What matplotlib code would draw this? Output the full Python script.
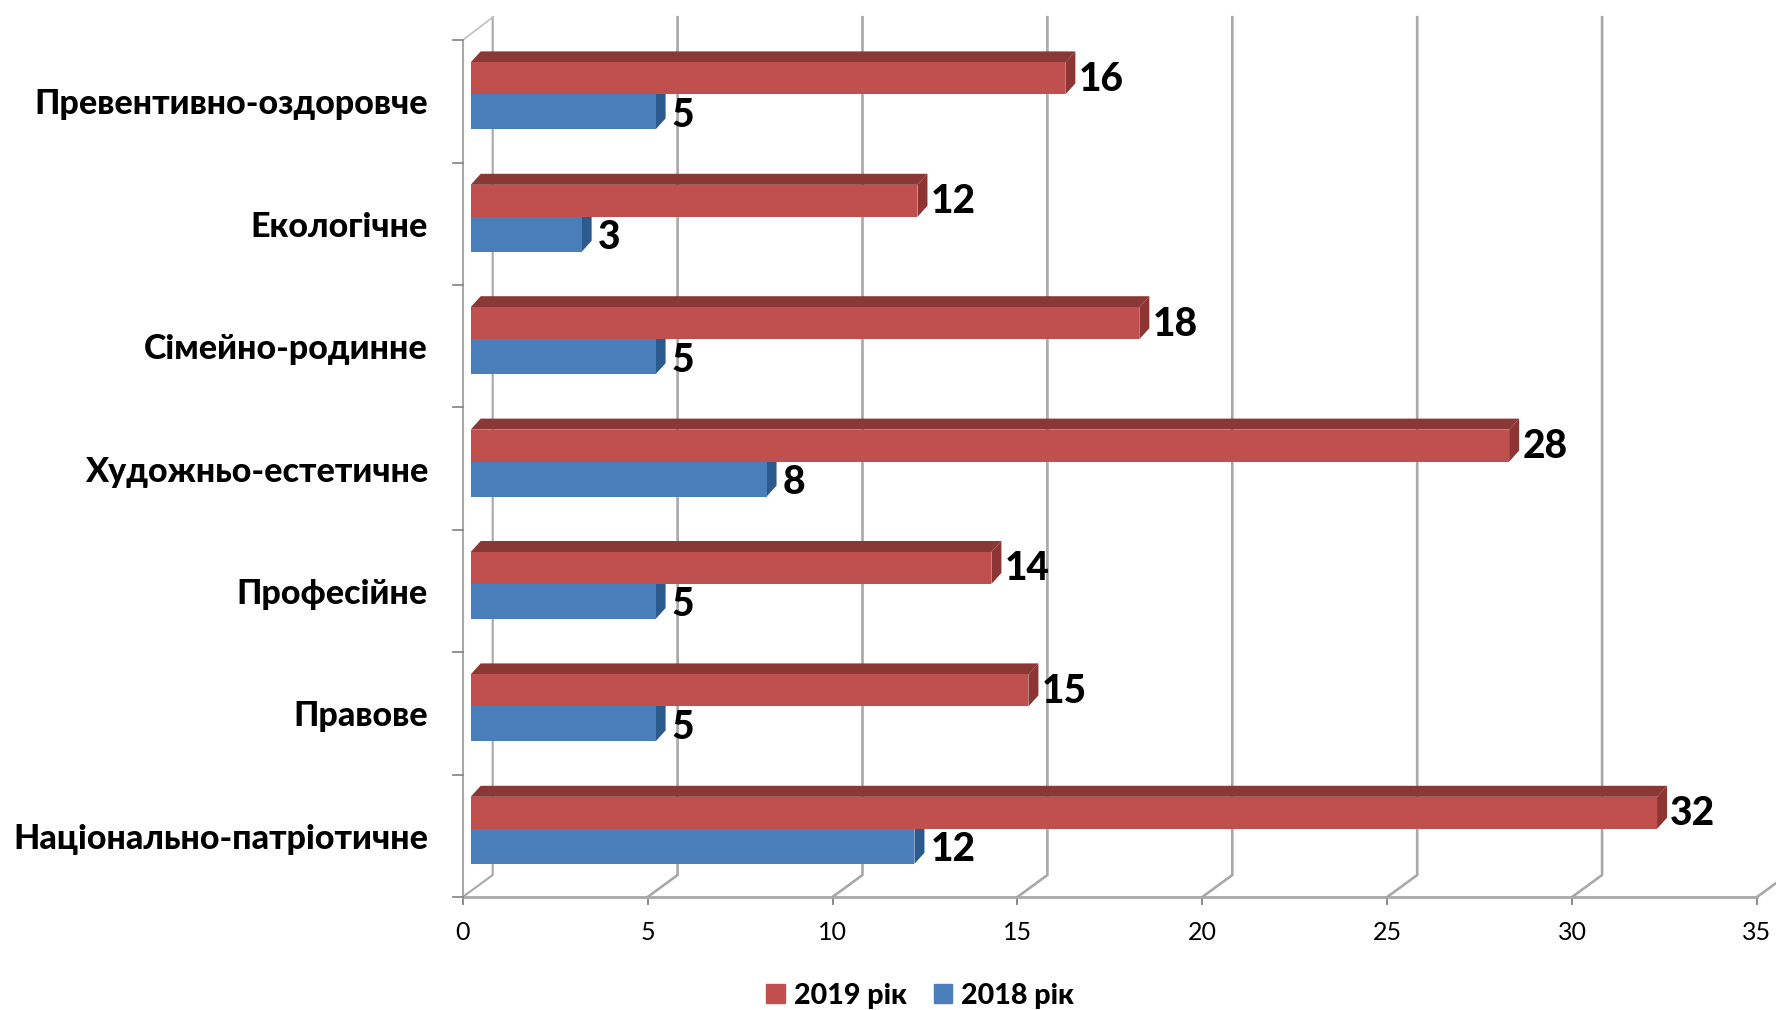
import matplotlib
matplotlib.use("Agg")
import matplotlib.pyplot as plt
from matplotlib.patches import Patch

categories = ["Національно-патріотичне", "Правове", "Професійне", "Художньо-естетичне",
              "Сімейно-родинне", "Екологічне", "Превентивно-оздоровче"]
values_2019 = [32, 15, 14, 28, 18, 12, 16]
values_2018 = [12, 5, 5, 8, 5, 3, 5]
x_ticks = [0, 5, 10, 15, 20, 25, 30, 35]

RED, RED_DARK, RED_SIDE = "#C0504D", "#8A3836", "#8E3533"
BLUE, BLUE_SIDE = "#4A7EBB", "#2B5A8F"
GREY = "#A8A8A8"

plt.rcParams["font.family"] = ["Lato", "Open Sans", "DejaVu Sans"]

# scale of the chart in pixels per data unit
PX_X = 36.98
PX_Y = 122.4
X0_PX = 462.7
Y0_PX = 897.0
W, H = 1776, 1010

fig = plt.figure(figsize=(W / 100, H / 100), dpi=100)
ax = fig.add_axes([0, 0, 1, 1])
ax.set_xlim(-X0_PX / PX_X, (W - X0_PX) / PX_X)
ax.set_ylim(-(H - Y0_PX) / PX_Y, Y0_PX / PX_Y)
ax.axis("off")


def px_x(p):
    return p / PX_X


def px_y(p):
    return p / PX_Y


# ---------- walls and grid ----------
n = len(categories)
wall_dx, wall_dy = px_x(30), px_y(22)
for t in x_ticks:
    ax.plot([t, t + wall_dx, t + wall_dx], [0, wall_dy, n + px_y(23)],
            color=GREY, lw=1.5 if t == 0 else 1.9, zorder=1, solid_joinstyle="round")
    ax.plot([t, t], [0, -px_y(7)], color="#808080", lw=1.3, zorder=1)
ax.plot([0, x_ticks[-1]], [0, 0], color=GREY, lw=2.0, zorder=1)
ax.plot([0, 0], [0, n], color=GREY, lw=1.5, zorder=1)
ax.plot([0, wall_dx], [n, n + px_y(23)], color="#C4C4C4", lw=1.3, zorder=1)
for i in range(n + 1):
    ax.plot([0, -px_x(10)], [i, i], color="#808080", lw=1.2, zorder=1)

# ---------- bars ----------
bar_x0 = px_x(8)
side_dx, side_dy = px_x(10), px_y(11)


def draw_bar(value, y_low, y_high, front, side, top=None, extra=0.0):
    x1 = value + bar_x0 + extra
    if top is not None:
        ax.fill([bar_x0, bar_x0 + side_dx, x1 + side_dx, x1],
                [y_high, y_high + side_dy, y_high + side_dy, y_high], color=top, lw=0, zorder=3)
    ax.fill([x1, x1 + side_dx, x1 + side_dx, x1],
            [y_low, y_low + side_dy, y_high + side_dy, y_high], color=side, lw=0, zorder=3)
    ax.fill([bar_x0, x1, x1, bar_x0], [y_low, y_low, y_high, y_high], color=front, lw=0, zorder=3)


for i in range(n):
    c = i + 0.5
    draw_bar(values_2018[i], c - px_y(28), c + px_y(7), BLUE, BLUE_SIDE)
for i in range(n):
    c = i + 0.5
    draw_bar(values_2019[i], c + px_y(7), c + px_y(39), RED, RED_SIDE, top=RED_DARK, extra=px_x(3))
    ax.text(-px_x(34.7), c - px_y(3), categories[i], ha="right", va="center",
            fontsize=24.5, fontweight=900, color="black")
    ax.text(values_2019[i] + px_x(24), c + px_y(22), str(values_2019[i]), ha="left", va="center",
            fontsize=28, fontweight=900, color="black", zorder=5)
    ax.text(values_2018[i] + px_x(24), c - px_y(14), str(values_2018[i]), ha="left", va="center",
            fontsize=28, fontweight=900, color="black", zorder=5)

for t in x_ticks:
    ax.text(t, -px_y(35), str(t), ha="center", va="center", fontsize=18, color="black")

# ---------- legend ----------
handles = [Patch(color=RED, label="2019 рік"), Patch(color=BLUE, label="2018 рік")]
ax.legend(handles=handles, ncol=2, frameon=False, loc="center",
          bbox_to_anchor=(920 / W, 1 - 996 / H), prop={"size": 20.6, "weight": 900},
          handlelength=0.65, handleheight=0.65, handletextpad=0.3, columnspacing=0.95)

plt.savefig("out.png", dpi=100)
plt.close()
